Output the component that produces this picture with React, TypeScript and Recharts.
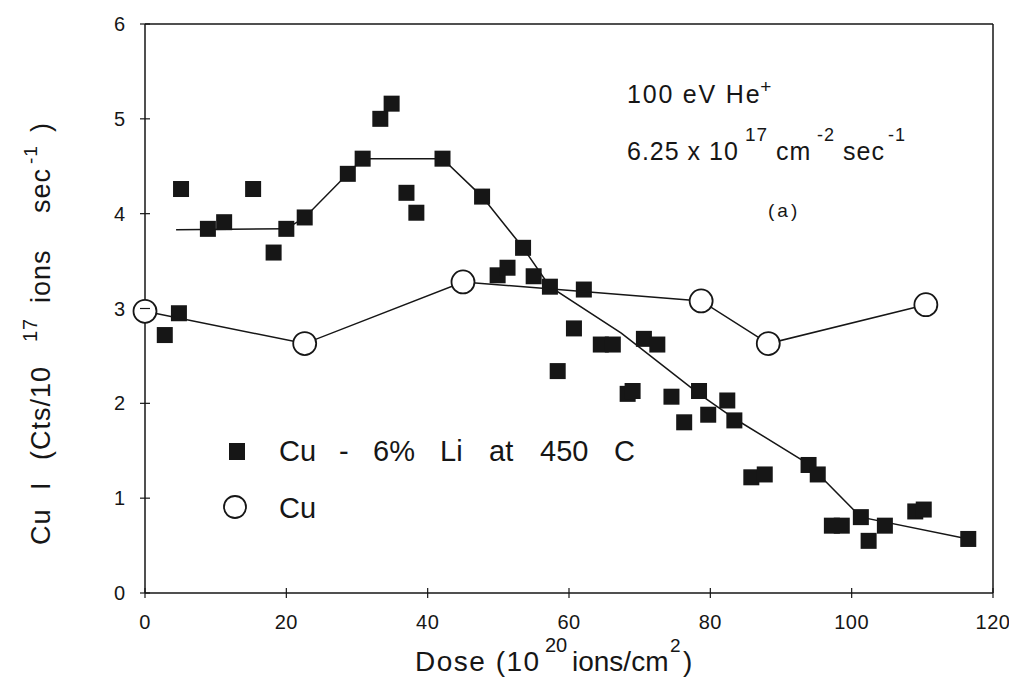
import { ReferenceLine, Scatter, ScatterChart, XAxis, YAxis } from "recharts";

// Cu (open circles, joined)
const cuDose = [0, 22.6, 45.0, 78.7, 88.2, 110.5];
const cuSignal = [2.97, 2.63, 3.28, 3.08, 2.63, 3.04];

// Cu - 6% Li at 450 C (filled squares)
const liDose = [
  2.8, 4.8, 5.1, 8.9, 11.2, 15.3, 18.2, 20.0, 22.6, 28.7, 30.8, 33.3, 34.9, 37.0, 38.4, 42.1, 47.7, 49.9, 51.3, 53.5,
  55.0, 57.3, 58.4, 60.7, 62.1, 64.5, 66.2, 68.3, 69.0, 70.6, 72.5, 74.5, 76.3, 78.4, 79.7, 82.4, 83.4, 85.8, 87.7,
  93.9, 95.2, 97.2, 98.6, 101.3, 102.4, 104.7, 109.0, 110.2, 116.5,
];
const liSignal = [
  2.72, 2.95, 4.26, 3.84, 3.91, 4.26, 3.59, 3.84, 3.96, 4.42, 4.58, 5.0, 5.16, 4.22, 4.01, 4.58, 4.18, 3.35, 3.43, 3.64,
  3.34, 3.23, 2.34, 2.79, 3.2, 2.62, 2.62, 2.1, 2.13, 2.68, 2.62, 2.07, 1.8, 2.13, 1.88, 2.03, 1.82, 1.22, 1.25,
  1.35, 1.25, 0.71, 0.71, 0.8, 0.55, 0.71, 0.86, 0.88, 0.57,
];

// hand-drawn trend line through the Cu-Li points
const fitDose = [4.4, 20.0, 22.6, 28.7, 30.8, 42.1, 47.7, 53.5, 57.3, 67.4, 78.4, 83.4, 93.9, 95.2, 101.3, 116.5];
const fitSignal = [3.83, 3.84, 3.96, 4.42, 4.58, 4.58, 4.18, 3.64, 3.23, 2.74, 2.1, 1.84, 1.36, 1.26, 0.8, 0.57];

const xTicks = [0, 20, 40, 60, 80, 100, 120];
const yTicks = [0, 1, 2, 3, 4, 5, 6];

const cuData = cuDose.map((x, i) => ({ x, y: cuSignal[i] }));
const liData = liDose.map((x, i) => ({ x, y: liSignal[i] }));
const fitData = fitDose.map((x, i) => ({ x, y: fitSignal[i] }));

const INK = "#161616";
const FONT = '"Liberation Sans", Arial, sans-serif';

function YTick({ x, y, payload }: any) {
  return (
    <g>
      <line x1={x - 5} x2={x + 5} y1={y} y2={y} stroke={INK} strokeWidth={1.2} />
      <text x={x - 20} y={y + 7} textAnchor="end" fontSize={20} fontFamily={FONT} fill={INK}>
        {payload.value}
      </text>
    </g>
  );
}

function XTick({ x, y, payload }: any) {
  return (
    <g>
      <line x1={x} x2={x} y1={y - 5} y2={y + 5} stroke={INK} strokeWidth={1.2} />
      <text x={x} y={y + 36} textAnchor="middle" fontSize={20} letterSpacing={0.5} fontFamily={FONT} fill={INK}>
        {payload.value}
      </text>
    </g>
  );
}

const squareShape = (p: any) => <rect x={p.cx - 8} y={p.cy - 8} width={16} height={16} fill={INK} />;
const circleShape = (p: any) => <circle cx={p.cx} cy={p.cy} r={11.5} fill="#ffffff" stroke={INK} strokeWidth={1.8} />;
const noShape = () => <g />;

export default function App() {
  return (
    <div style={{ position: "absolute", left: 0, top: 0, width: 1009, height: 688, background: "#ffffff" }}>
      <ScatterChart width={1009} height={688} margin={{ top: 24, right: 16, bottom: 0, left: 0 }}>
        <XAxis
          type="number"
          dataKey="x"
          domain={[0, 120]}
          ticks={xTicks}
          height={95}
          tickSize={0}
          tickMargin={0}
          tickLine={false}
          axisLine={{ stroke: INK, strokeWidth: 1.5 }}
          tick={<XTick />}
        />
        <YAxis
          type="number"
          dataKey="y"
          domain={[0, 6]}
          ticks={yTicks}
          width={145}
          tickSize={0}
          tickMargin={0}
          tickLine={false}
          axisLine={{ stroke: INK, strokeWidth: 1.5 }}
          tick={<YTick />}
        />
        <ReferenceLine y={6} stroke={INK} strokeWidth={1.5} />
        <ReferenceLine x={120} stroke={INK} strokeWidth={1.5} />
        <Scatter data={fitData} line={{ stroke: INK, strokeWidth: 1.5 }} lineType="joint" shape={noShape} isAnimationActive={false} />
        <Scatter data={liData} shape={squareShape} isAnimationActive={false} />
        <Scatter data={cuData} line={{ stroke: INK, strokeWidth: 1.5 }} lineType="joint" shape={circleShape} isAnimationActive={false} />
      </ScatterChart>

      <svg width={1009} height={688} style={{ position: "absolute", left: 0, top: 0, pointerEvents: "none" }} fontFamily={FONT} fill={INK}>
        {/* annotation */}
        <text x={627} y={103} fontSize={25} letterSpacing={1.8}>
          100 eV He<tspan dy={-10} dx={-1} fontSize={19}>+</tspan>
        </text>
        <text y={160} fontSize={25} letterSpacing={1}>
          <tspan x={627}>6.25 x 10</tspan>
          <tspan x={745} y={141} fontSize={19}>17</tspan>
          <tspan x={776} y={160}>cm</tspan>
          <tspan x={817} y={141} fontSize={18}>-2</tspan>
          <tspan x={843} y={160}>sec</tspan>
          <tspan x={888} y={141} fontSize={18}>-1</tspan>
        </text>
        <text x={768} y={217} fontSize={19} letterSpacing={3}>(a)</text>

        {/* legend */}
        <rect x={229} y={443} width={16} height={17} fill={INK} />
        <text y={461} fontSize={29}>
          <tspan x={279}>Cu</tspan>
          <tspan x={339}>-</tspan>
          <tspan x={373}>6%</tspan>
          <tspan x={440}>Li</tspan>
          <tspan x={489}>at</tspan>
          <tspan x={540}>450</tspan>
          <tspan x={614}>C</tspan>
        </text>
        <circle cx={235} cy={507} r={11} fill="#ffffff" stroke={INK} strokeWidth={1.8} />
        <text x={279} y={518} fontSize={29}>Cu</text>

        {/* axis titles */}
        <text y={671} fontSize={28}>
          <tspan x={415} letterSpacing={1.5}>Dose (10</tspan>
          <tspan x={545} y={652} fontSize={20}>20</tspan>
          <tspan x={572} y={671}>ions/cm</tspan>
          <tspan x={670} y={652} fontSize={19}>2</tspan>
          <tspan x={683} y={671}>)</tspan>
        </text>
        <text transform="translate(50, 0) rotate(-90)" fontSize={27} letterSpacing={1}>
          <tspan x={-545} y={0}>Cu</tspan>
          <tspan x={-490} y={0}>I</tspan>
          <tspan x={-460} y={0}>(Cts/10</tspan>
          <tspan x={-342} y={-13} fontSize={20}>17</tspan>
          <tspan x={-303} y={0}>ions</tspan>
          <tspan x={-213} y={0}>sec</tspan>
          <tspan x={-164} y={-13} fontSize={19}>-1</tspan>
          <tspan x={-132} y={0}>)</tspan>
        </text>
      </svg>
    </div>
  );
}
